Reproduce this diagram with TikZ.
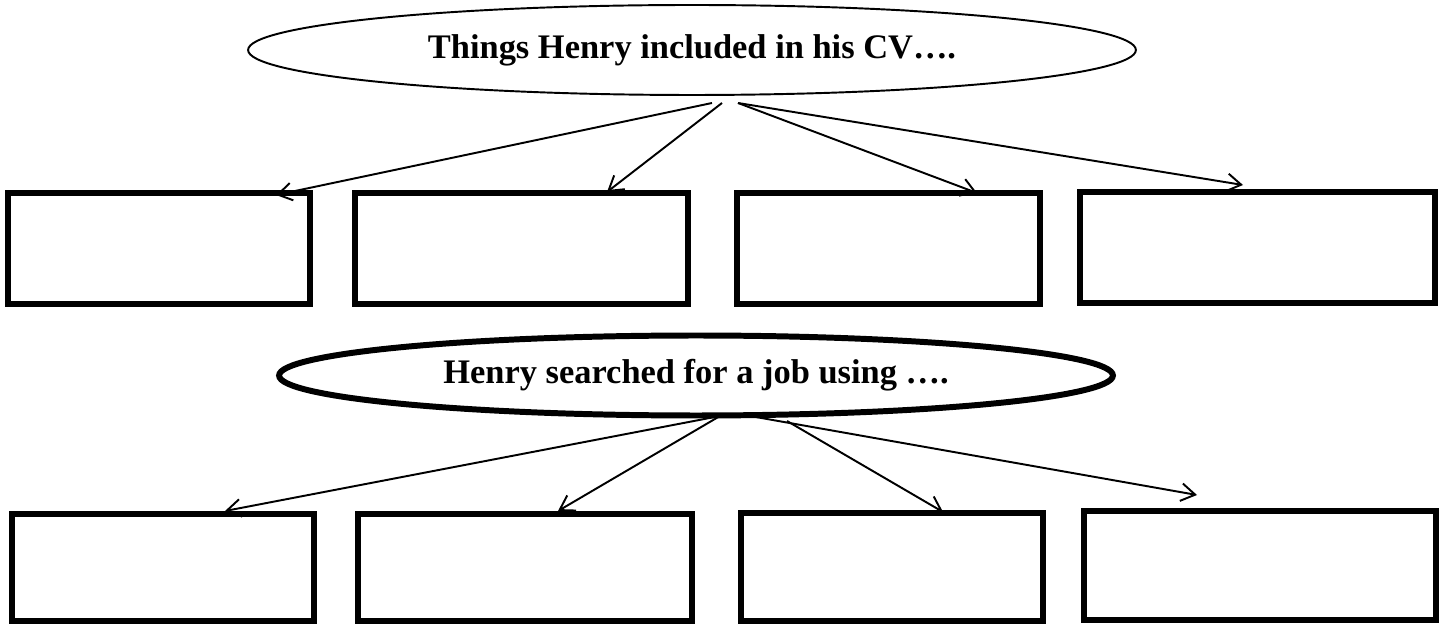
\documentclass[tikz,border=0pt]{standalone}
\usepackage{fontspec}
\setmainfont{Liberation Serif}
\usetikzlibrary{shapes.geometric,arrows.meta}
\tikzset{link/.style={line width=1.1pt, -{Straight Barb[length=8pt,width=10pt,line width=1.1pt]}}}
\tikzset{slot/.style args={#1/#2}{draw, line width=3.4pt, minimum width=#1, minimum height=#2, inner sep=0pt}}
\tikzset{bubble/.style={draw, ellipse, inner sep=0pt, font=\bfseries\fontsize{19.6}{24}\selectfont}}

\begin{document}
\begin{tikzpicture}[x=0.02cm,y=-0.02cm]
\useasboundingbox (0,0) rectangle (1446,624);
% first question and its four boxes
\node[bubble, line width=1.1pt, minimum width=17.76cm, minimum height=1.8cm] (cv) at (692,50) {Things Henry included in his CV….};
\node[slot={6.04cm/2.22cm}] (cv1) at (159,248.5) {};
\node[slot={6.66cm/2.22cm}] (cv2) at (521.5,248.5) {};
\node[slot={6.06cm/2.22cm}] (cv3) at (888.5,248.5) {};
\node[slot={7.10cm/2.22cm}] (cv4) at (1257.5,247.5) {};
\coordinate (cvA) at (712,103);
\coordinate (cvB) at (722,103);
\coordinate (cvC) at (738,103);
\coordinate (cv1t) at (276,195);
\coordinate (cv2t) at (607,192);
\coordinate (cv3t) at (977,193);
\coordinate (cv4t) at (1243,185);
\draw[link] (cvA) -- (cv1t);
\draw[link] (cvB) -- (cv2t);
\draw[link] (cvC) -- (cv3t);
\draw[link] (cvC) -- (cv4t);
% second question
\node[bubble, line width=3.4pt, minimum width=16.68cm, minimum height=1.6cm] (job) at (696,375.5) {Henry searched for a job using ….};
\node[slot={6.04cm/2.14cm}] (job1) at (163,567.5) {};
\node[slot={6.68cm/2.14cm}] (job2) at (525,567.5) {};
\node[slot={6.04cm/2.16cm}] (job3) at (892,567) {};
\node[slot={7.04cm/2.18cm}] (job4) at (1260,565.5) {};
\coordinate (jobA) at (720,416);
\coordinate (jobB) at (787,421);
\coordinate (jobC) at (750,416);
\coordinate (job1t) at (225,511);
\coordinate (job2t) at (558,511);
\coordinate (job3t) at (943,512);
\coordinate (job4t) at (1197,495);
\draw[link] (jobA) -- (job1t);
\draw[link] (jobA) -- (job2t);
\draw[link] (jobB) -- (job3t);
\draw[link] (jobC) -- (job4t);
\end{tikzpicture}
\end{document}
